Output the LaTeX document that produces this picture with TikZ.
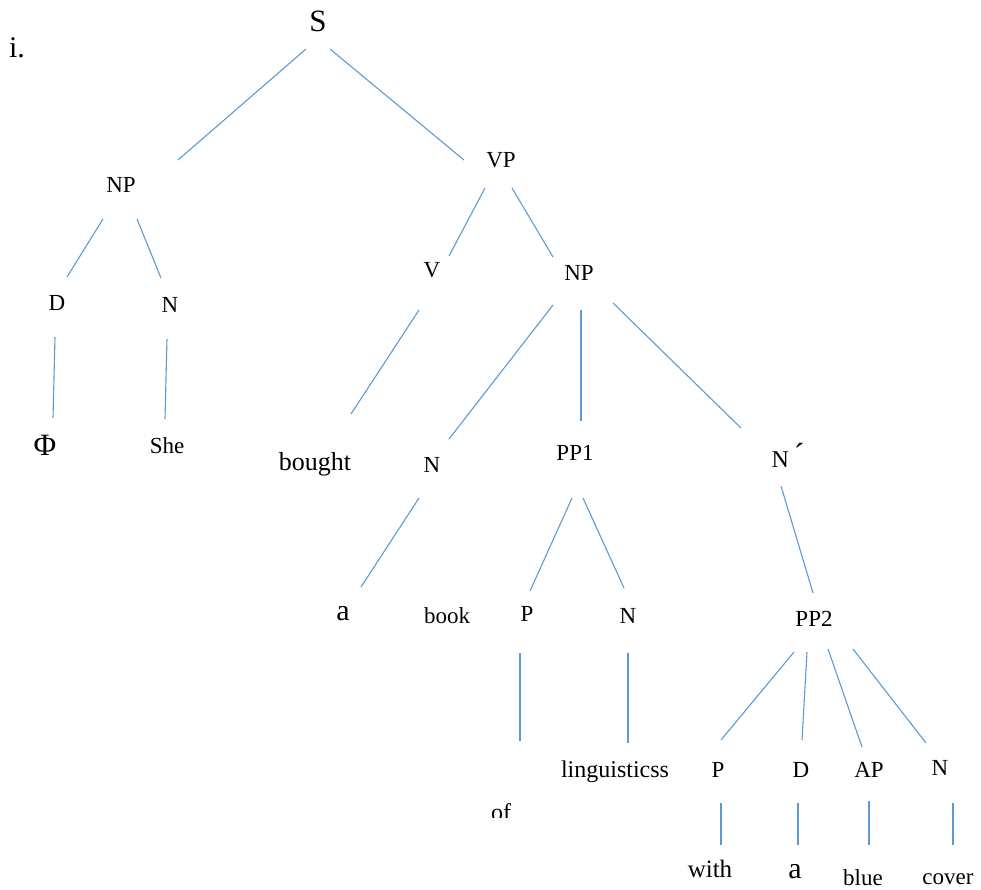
\documentclass[tikz,border=0pt]{standalone}
\usepackage{fontspec}
\setmainfont{Liberation Serif}
\definecolor{treeblue}{HTML}{5B9BD5}
\newcommand{\fsz}[1]{\fontsize{#1}{#1}\selectfont}
\tikzset{
  cat/.style={anchor=base, inner sep=0pt, font=\fsz{23}},
  word/.style={anchor=base, inner sep=0pt, font=\fsz{24}},
  branch/.style={draw=treeblue, line width=1.1pt},
}
% a branch between two named end points
\newcommand{\branchline}[3]{%
  \coordinate (#1-u) at (#2);
  \coordinate (#1-l) at (#3);
  \draw[branch] (#1-u) -- (#1-l);}
\begin{document}
\begin{tikzpicture}[x=1pt,y=-1pt]
\useasboundingbox (0,0) rectangle (981,889);

% example number and root
\node[word, font=\fsz{30}] (num) at (17,57) {i.};
\node[cat, font=\fsz{31}] (S) at (318,31) {S};

% subject
\node[cat] (NPa) at (121,192) {NP};
\node[cat] (Da) at (57,310) {D};
\node[cat] (Na) at (170,312) {N};
\node[word, font=\fsz{31}] (phi) at (45,455) {Φ};
\node[word, font=\fsz{23}] (she) at (167,453) {She};

% predicate
\node[cat] (VP) at (501,167) {VP};
\node[cat] (V) at (432,277) {V};
\node[cat] (NPb) at (579,280) {NP};
\node[word, font=\fsz{26}] (bought) at (315,470) {bought};
\node[cat] (Nb) at (432,472) {N};
\node[cat] (PPa) at (575,460) {PP1};
\node[cat, font=\fsz{24}] (Nbar) at (788,467) {N\hspace{5pt}\raisebox{2pt}{\fsz{32}´}};

\node[word, font=\fsz{30}] (aa) at (343,620) {a};
\node[word, font=\fsz{23}] (book) at (447,623) {book};
\node[cat] (Pa) at (527,621) {P};
\node[cat] (Nc) at (628,623) {N};
\node[cat] (PPb) at (814,626) {PP2};

\node[word] (ling) at (615,777) {linguisticss};
\begin{scope}
  \clip (470,790) rectangle (540,817);
  \node[word] (of) at (501,820) {of};
\end{scope}

\node[cat] (Pb) at (718,777) {P};
\node[cat] (Db) at (801,777) {D};
\node[cat] (AP) at (869,777) {AP};
\node[cat] (Nd) at (940,775) {N};

\node[word, font=\fsz{25}] (with) at (710,877) {with};
\node[word, font=\fsz{30}] (ab) at (795,878) {a};
\node[word, font=\fsz{23}] (blue) at (863,885) {blue};
\node[word, font=\fsz{23}] (cover) at (948,884) {cover};

% branches
\branchline{S-NPa}{306,49}{178,160}
\branchline{S-VP}{330,49}{464,160}
\branchline{NPa-Da}{103,219}{67,277}
\branchline{NPa-Na}{137,219}{161,278}
\branchline{Da-phi}{55,337}{53,418}
\branchline{Na-she}{167,339}{165,419}
\branchline{VP-V}{485,188}{449,256}
\branchline{VP-NPb}{512,188}{553,257}
\branchline{V-bought}{419,310}{351,414}
\branchline{NPb-Nb}{553,305}{449,439}
\branchline{NPb-PPa}{581,310}{581,421}
\branchline{NPb-Nbar}{613,303}{741,428}
\branchline{Nb-aa}{419,498}{361,587}
\branchline{PPa-Pa}{572,498}{530,591}
\branchline{PPa-Nc}{583,498}{624,588}
\branchline{Nbar-PPb}{781,486}{813,593}
\branchline{Pa-of}{520,653}{520,741}
\branchline{Nc-ling}{628,653}{628,743}
\branchline{PPb-Pb}{794,652}{721,740}
\branchline{PPb-Db}{807,652}{802,740}
\branchline{PPb-AP}{828,649}{862,747}
\branchline{PPb-Nd}{853,649}{926,743}
\branchline{Pb-with}{721,803}{721,845}
\branchline{Db-ab}{798,803}{798,845}
\branchline{AP-blue}{869,801}{869,845}
\branchline{Nd-cover}{953,803}{953,845}
\end{tikzpicture}
\end{document}
